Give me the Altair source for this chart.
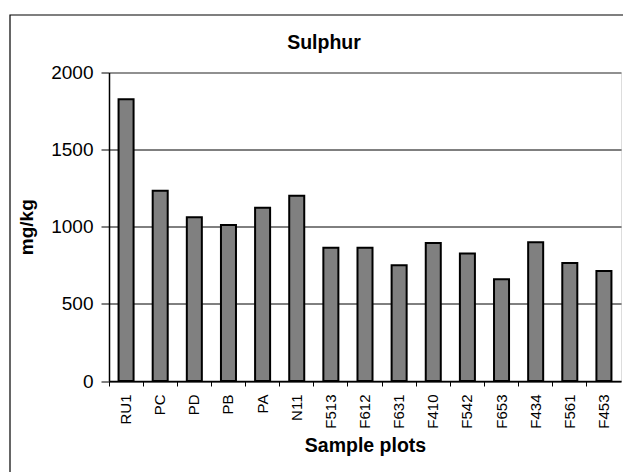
import altair as alt
import pandas as pd

plots = ["RU1", "PC", "PD", "PB", "PA", "N11", "F513", "F612", "F631",
         "F410", "F542", "F653", "F434", "F561", "F453"]
sulphur = [1826, 1233, 1061, 1011, 1123, 1201, 864, 864, 750,
           894, 827, 659, 899, 765, 713]
y_ticks = [0, 500, 1000, 1500, 2000]
chart_title = "Sulphur"

df = pd.DataFrame({"plot": plots, "value": sulphur})
FONT = "Liberation Sans"

xscale = alt.Scale(paddingInner=0, paddingOuter=0)
one = alt.InlineData(values=[{"t": chart_title}])

frame = alt.Chart(one).mark_rect(
    filled=False, stroke="black", strokeWidth=1.2, clip=False
).encode(
    x=alt.value(-99), x2=alt.value(700),
    y=alt.value(-57.5), y2=alt.value(700)
)

title = alt.Chart(one).mark_text(
    font=FONT, fontSize=19.5, fontWeight="bold", color="black",
    align="center", baseline="alphabetic"
).encode(text="t:N", x=alt.value(215), y=alt.value(-23.8))

bars = alt.Chart(df).mark_bar(
    fill="#808080", stroke="black", strokeWidth=2,
    width=alt.RelativeBandSize(0.44)
).encode(
    x=alt.X("plot:N", sort=plots, scale=xscale,
            axis=alt.Axis(title="Sample plots", labelAngle=-90, ticks=False,
                          tickSize=0, labelPadding=13, labelFontSize=15,
                          labelFont=FONT, labelColor="black",
                          domainColor="black", domainWidth=1.5,
                          titleFont=FONT, titleFontSize=19.5,
                          titleFontWeight="bold", titleColor="black",
                          titlePadding=8, orient="bottom")),
    y=alt.Y("value:Q", scale=alt.Scale(domain=[0, 2000], nice=False),
            axis=alt.Axis(title="mg/kg", values=y_ticks, format="d",
                          labelFontSize=19,
                          labelFont=FONT, labelColor="black",
                          tickColor="black", tickSize=8, labelPadding=8,
                          domainColor="black", domainWidth=1.5,
                          grid=True,
                          gridColor={"condition": {"test": "datum.value === 2000",
                                                   "value": "#909090"},
                                     "value": "black"},
                          gridWidth={"condition": {"test": "datum.value === 2000",
                                                   "value": 2},
                                     "value": 1},
                          titleFont=FONT, titleFontSize=19,
                          titleFontWeight="bold", titleColor="black",
                          titlePadding=14))
)

ticks = alt.Chart(df).mark_point(opacity=0).encode(
    x=alt.X("plot:N", sort=plots, scale=xscale,
            axis=alt.Axis(title=None, labels=False, domain=False,
                          bandPosition=0, tickSize=5, tickColor="black",
                          orient="bottom"))
)

chart = alt.layer(frame, title, bars, ticks).resolve_axis(x="independent").properties(
    width=512, height=308.5,
    padding={"left": 101, "top": 64.5, "right": 2, "bottom": 91},
    autosize=alt.AutoSizeParams(type="none")
).configure_view(stroke="#909090", strokeWidth=2).configure(background="white")

chart.save("out.html", embed_options={"renderer": "svg", "actions": False})
